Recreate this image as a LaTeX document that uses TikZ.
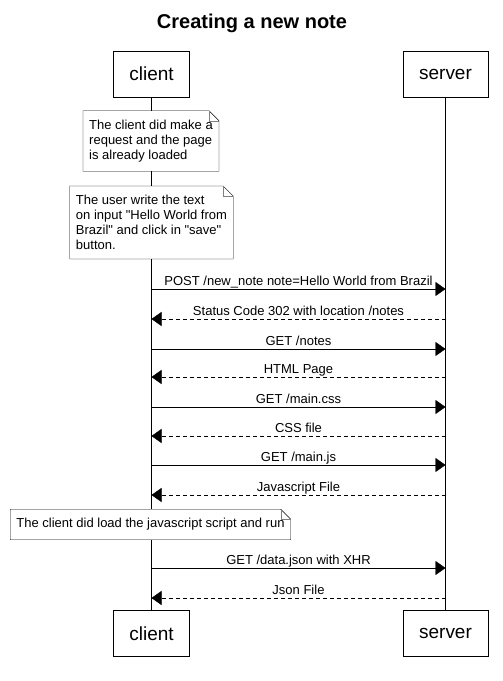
\documentclass[tikz,border=0pt]{standalone}
\usepackage{fontspec}
\setmainfont{Liberation Sans}[Ligatures=TeXOff]
\usetikzlibrary{calc,arrows.meta}

\tikzset{
  actor/.style={draw, fill=white, minimum height=46pt, inner xsep=16pt, font=\fontsize{19}{22}\selectfont},
  note/.style={fill=white, align=left, inner xsep=6pt, inner ysep=9pt, font=\fontsize{13}{15}\selectfont},
  msg/.style={-{Triangle[length=10pt,width=14pt]}},
  reply/.style={msg, dash pattern=on 4pt off 3pt},
  lbl/.style={anchor=base, yshift=4pt, font=\fontsize{13}{15}\selectfont},
}
\newcommand{\dogear}[1]{%
  \draw (#1.north west) -- ($(#1.north east)+(-10,0)$) -- ($(#1.north east)+(0,10)$) -- (#1.south east) -- (#1.south west) -- cycle;
  \draw[gray] ($(#1.north east)+(-10,0)$) |- ($(#1.north east)+(0,10)$);
}

\begin{document}
\begin{tikzpicture}[x=1pt,y=-1pt]
\useasboundingbox (0,0) rectangle (503,681);
\node[anchor=base,font=\bfseries\fontsize{20}{24}\selectfont] (title) at (252,28) {Creating a new note};
%
\node[actor] (ct) at (151.5,74) {client};
\node[actor] (st) at (445.5,74) {server};
\node[actor] (cb) at (151.5,633.5) {client};
\node[actor] (sb) at (445.5,633.5) {server};
\draw (ct.south) -- (cb.north); %lifelines
\draw (st.south) -- (sb.north);
%
\foreach \n/\y in {1/289,2/319,3/349,4/377,5/407,6/436,7/465,8/495,9/568,10/598}{
  \coordinate (c\n) at (ct.south |- 0,\y);
  \coordinate (s\n) at (st.south |- 0,\y);
}
%
\node[note] (n1) at (151,141) {The client did make a\\request and the page\\is already loaded};
\dogear{n1}
\node[note] (n2) at (151.5,222.5) {The user write the text\\on input "Hello World from\\Brazil" and click in "save"\\button.};
\dogear{n2}
\node[note] (n3) at (150.5,524.5) {The client did load the javascript script and run};
\dogear{n3}
%
\draw[msg] (c1) -- node[lbl]{POST /new\_note note=Hello World from Brazil} (s1);
\draw[reply] (s2) -- node[lbl]{Status Code 302 with location /notes} (c2);
\draw[msg] (c3) -- node[lbl]{GET /notes} (s3);
\draw[reply] (s4) -- node[lbl]{HTML Page} (c4);
\draw[msg] (c5) -- node[lbl]{GET /main.css} (s5);
\draw[reply] (s6) -- node[lbl]{CSS file} (c6);
\draw[msg] (c7) -- node[lbl]{GET /main.js} (s7);
\draw[reply] (s8) -- node[lbl]{Javascript File} (c8);
\draw[msg] (c9) -- node[lbl]{GET /data.json with XHR} (s9);
\draw[reply] (s10) -- node[lbl]{Json File} (c10);
\end{tikzpicture}
\end{document}
